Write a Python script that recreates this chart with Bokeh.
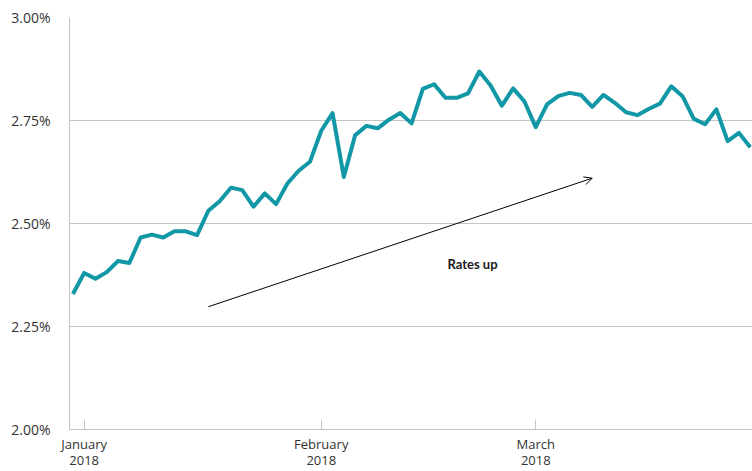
import pandas as pd
from bokeh.plotting import figure
from bokeh.models import Range1d, FixedTicker, PrintfTickFormatter, Arrow, OpenHead, Label
from bokeh.embed import file_html
from bokeh.resources import INLINE

# Trading days (weekends and market holidays skipped), plotted evenly spaced
holidays = ["2018-01-01", "2018-01-15", "2018-02-19"]
dates = pd.bdate_range("2017-12-29", "2018-03-28", freq="C", holidays=holidays)

rates = [2.329, 2.380, 2.366, 2.382, 2.409, 2.404, 2.466, 2.473, 2.466, 2.481,
         2.481, 2.472, 2.531, 2.554, 2.587, 2.581, 2.541, 2.573, 2.547, 2.597,
         2.628, 2.650, 2.725, 2.768, 2.613, 2.714, 2.737, 2.731, 2.752, 2.768,
         2.743, 2.827, 2.838, 2.805, 2.805, 2.816, 2.869, 2.835, 2.786, 2.828,
         2.796, 2.734, 2.789, 2.809, 2.817, 2.812, 2.783, 2.812, 2.793, 2.770,
         2.763, 2.778, 2.791, 2.833, 2.809, 2.754, 2.741, 2.777, 2.700, 2.720,
         2.685]

y_ticks = [2.00, 2.25, 2.50, 2.75, 3.00]
month_labels = ["January\n2018", "February\n2018", "March\n2018"]

x = list(range(len(rates)))

# first trading day of each month
month_starts = [i for i in range(1, len(dates)) if dates[i].month != dates[i - 1].month]

p = figure(width=752, height=471, output_backend="svg", toolbar_location=None,
           x_range=Range1d(-0.3, len(rates) - 0.8), y_range=Range1d(2.0, 3.0),
           min_border_left=69, min_border_right=0, min_border_top=17, min_border_bottom=41)
p.outline_line_color = None
p.background_fill_color = "white"
p.border_fill_color = "white"

p.line(x, rates, line_color="#1197a5", line_width=4, line_join="round")

# axes
p.yaxis.ticker = FixedTicker(ticks=y_ticks)
p.yaxis.formatter = PrintfTickFormatter(format="%.2f%%")
p.yaxis.major_tick_line_color = None
p.yaxis.minor_tick_line_color = None
p.yaxis.axis_line_color = "#c4c4c4"
p.yaxis.major_label_text_font = "Open Sans"
p.yaxis.major_label_text_font_size = "14px"
p.yaxis.major_label_text_color = "#333333"
p.yaxis.major_label_standoff = 13

p.xaxis.ticker = FixedTicker(ticks=month_starts)
p.xaxis.major_label_overrides = {m: lab for m, lab in zip(month_starts, month_labels)}
p.xaxis.major_tick_in = 10
p.xaxis.major_tick_out = 0
p.xaxis.major_tick_line_color = "#c4c4c4"
p.xaxis.minor_tick_line_color = None
p.xaxis.axis_line_color = "#c4c4c4"
p.xaxis.major_label_text_font = "Open Sans"
p.xaxis.major_label_text_font_size = "13px"
p.xaxis.major_label_text_color = "#333333"
p.xaxis.major_label_text_line_height = 0.9
p.xaxis.major_label_standoff = 5

p.xgrid.grid_line_color = None
p.ygrid.ticker = FixedTicker(ticks=y_ticks)
p.ygrid.grid_line_color = "#c4c4c4"
p.ygrid.grid_line_width = 1

# annotation
p.add_layout(Arrow(end=OpenHead(size=8, line_width=1, line_color="black"),
                   x_start=12, y_start=2.298, x_end=46, y_end=2.610,
                   line_width=1, line_color="black"))
p.add_layout(Label(x=35.4, y=2.402, text="Rates up", text_font="Lato",
                   text_font_style="bold", text_font_size="13px",
                   text_align="center", text_baseline="middle", text_color="#1a1a1a"))

open("out.html", "w").write(file_html(p, INLINE))
